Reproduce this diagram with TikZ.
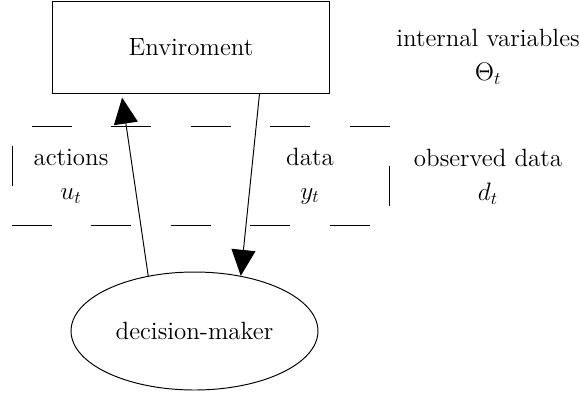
\documentclass[tikz,border=0pt]{standalone}
\usetikzlibrary{arrows.meta,shapes.geometric}

\begin{document}
\begin{tikzpicture}[x=0.02cm, y=-0.02cm, line width=0.55pt,
    every node/.style={font=\fontsize{14.2}{19.3}\selectfont},
    box/.style={shape=rectangle, draw, minimum width=5.56cm, minimum height=1.83cm, inner sep=0},
    oval/.style={shape=ellipse, draw, minimum width=4.94cm, minimum height=2.36cm, inner sep=0},
    lbl/.style={align=center, inner sep=0},
    flow/.style={-{Triangle[length=0.52cm, width=0.48cm]}, shorten >=0.08cm},
    cluster/.style={draw, dash pattern=on 0.795cm off 0.795cm}]
    \useasboundingbox (0,0) rectangle (580,396);
    % observed block
    \draw[cluster] (12,225.5) -- (389.5,225.5) -- (389.5,126) -- (12,126) -- cycle;
    \node[box] at (191,47.5) (env) {Enviroment};
    \node[oval] at (194.5,331) (dm) {decision-maker};
    \node[lbl] at (71,176) (act) {actions\\$u_t$};
    \node[lbl] at (310,176) (dat) {data\\$y_t$};
    \node[lbl] at (488,177) (obs) {observed data\\$d_t$};
    \node[lbl] at (488,57) (int) {internal variables\\$\Theta_t$};
    \draw[flow] (dm.130) -- ([xshift=1.4cm]env.south west);
    \draw[flow, shorten >=0pt] ([xshift=4.16cm]env.south west) -- (dm.50);
\end{tikzpicture}
\end{document}
